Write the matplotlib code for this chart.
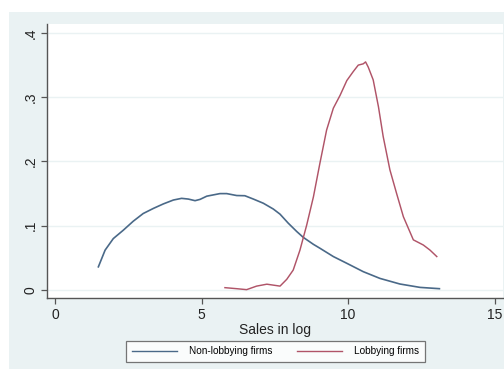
import matplotlib
matplotlib.use("Agg")
import matplotlib.pyplot as plt
from matplotlib.patches import Rectangle

# Kernel density estimates of log sales
nonlobby_x = [1.48, 1.71, 1.99, 2.33, 2.67, 3.01, 3.36, 3.70, 4.04, 4.32, 4.55, 4.78,
              4.95, 5.18, 5.63, 5.86, 6.20, 6.48, 6.77, 7.11, 7.45, 7.68, 7.96, 8.25,
              8.47, 8.82, 9.04, 9.50, 9.96, 10.52, 11.09, 11.77, 12.46, 13.12]
nonlobby_y = [0.036, 0.062, 0.080, 0.093, 0.107, 0.119, 0.127, 0.134, 0.140, 0.1426, 0.1415, 0.139,
              0.141, 0.146, 0.150, 0.150, 0.147, 0.1467, 0.1415, 0.135, 0.126, 0.118, 0.104, 0.091,
              0.082, 0.071, 0.065, 0.052, 0.0415, 0.0285, 0.018, 0.0093, 0.004, 0.002]

lobby_x = [5.80, 6.20, 6.54, 6.88, 7.23, 7.68, 7.91, 8.13, 8.36, 8.59, 8.82, 9.04,
           9.27, 9.50, 9.73, 9.86, 9.96, 10.18, 10.35, 10.52, 10.60, 10.69, 10.86, 11.04,
           11.20, 11.43, 11.66, 11.89, 12.23, 12.57, 12.80, 13.03]
lobby_y = [0.0036, 0.002, 0.0005, 0.006, 0.009, 0.006, 0.0166, 0.031, 0.062, 0.101, 0.145, 0.197,
           0.249, 0.283, 0.303, 0.316, 0.326, 0.340, 0.350, 0.352, 0.355, 0.347, 0.327, 0.285,
           0.239, 0.187, 0.150, 0.114, 0.078, 0.070, 0.062, 0.052]

x_ticks = [0, 5, 10, 15]
y_ticks = [0, 0.1, 0.2, 0.3, 0.4]
y_ticklabels = ["0", ".1", ".2", ".3", ".4"]

plt.rcParams["font.family"] = ["Liberation Sans", "DejaVu Sans"]

W, H = 504, 369
fig = plt.figure(figsize=(W / 100, H / 100), dpi=100)
fig.patch.set_facecolor("white")

bg = "#eaf2f3"
fig.add_artist(Rectangle((9 / W, 0), 1 - 9 / W, (H - 12) / H,
                         transform=fig.transFigure, facecolor=bg, edgecolor="none", zorder=0))

ax = fig.add_axes([47 / W, (H - 298) / H, (503 - 47) / W, (298 - 24) / H])
ax.set_facecolor("white")

ax.plot(nonlobby_x, nonlobby_y, color="#4a6988", lw=1.2, label="Non-lobbying firms", zorder=3)
ax.plot(lobby_x, lobby_y, color="#b05468", lw=1.05, label="Lobbying firms", zorder=3)

ax.set_xlim(-0.273, 15.29)
ax.set_ylim(-0.0125, 0.414)

ax.set_xticks(x_ticks)
ax.set_yticks(y_ticks)
ax.set_yticklabels(y_ticklabels, rotation=90, va="center")
for y in y_ticks:
    ax.axhline(y, color=bg, lw=1.0, zorder=1)

for s in ["top", "right"]:
    ax.spines[s].set_visible(False)
for s in ["left", "bottom"]:
    ax.spines[s].set_color("#555555")
    ax.spines[s].set_linewidth(1.0)
ax.tick_params(axis="both", direction="out", length=4, width=0.9, color="#555555",
               labelsize=10, labelcolor="#222222", pad=3)

ax.set_xlabel("Sales in log", fontsize=10, color="#222222", labelpad=1)

leg = fig.legend(loc="center", bbox_to_anchor=(275.5 / W, 1 - 351 / H), ncol=2,
                 fontsize=7.2, frameon=True, fancybox=False, handlelength=4.5,
                 columnspacing=2.5, handletextpad=1.2, borderpad=0.55)
leg.get_frame().set_edgecolor("#555555")
leg.get_frame().set_linewidth(0.9)
leg.get_frame().set_facecolor("white")
for line in leg.get_lines():
    line.set_linewidth(1.0)

fig.savefig("out.png", dpi=100, facecolor=fig.get_facecolor())
